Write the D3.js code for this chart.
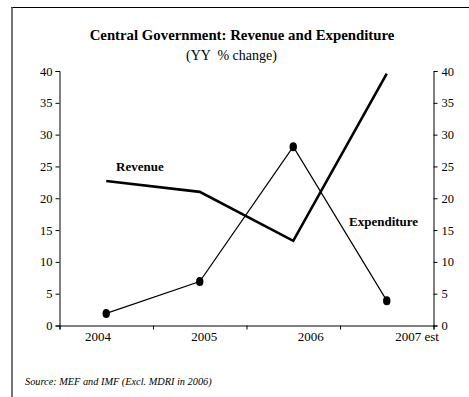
<!DOCTYPE html>
<html>
<head>
<meta charset="utf-8">
<script src="https://cdn.jsdelivr.net/npm/d3@7/dist/d3.min.js"></script>
<style>
  html, body { margin: 0; padding: 0; background: #fff; }
  svg { display: block; font-family: "Liberation Serif", "Times New Roman", serif; }
</style>
</head>
<body>
<svg id="chart" width="469" height="397"></svg>
<script>
// Year-on-year % change, central government
const categories = ["2004", "2005", "2006", "2007 est"];
const revenue = [22.7, 21.0, 13.3, 39.6];
const expenditure = [1.9, 6.9, 28.1, 3.9];
const yTicks = [0, 5, 10, 15, 20, 25, 30, 35, 40];

const svg = d3.select("#chart");

// frame around the figure (top and left edges)
svg.append("line").attr("x1", 11).attr("x2", 469).attr("y1", 7.5).attr("y2", 7.5)
  .attr("stroke", "#000").attr("stroke-width", 1);
svg.append("line").attr("x1", 12).attr("x2", 12).attr("y1", 7).attr("y2", 397)
  .attr("stroke", "#444").attr("stroke-width", 1.5);

const plot = { left: 59.5, right: 433.5, top: 71, bottom: 325.5 };

const x = d3.scaleBand().domain(categories).range([plot.left, plot.right]);
const y = d3.scaleLinear().domain([0, 40]).range([plot.bottom, plot.top]);
// year labels sit on their own slightly wider spacing
const xLabel = d3.scalePoint().domain(categories).range([98, 417]);

// titles
svg.append("text").attr("x", 242).attr("y", 40).attr("text-anchor", "middle")
  .attr("font-size", 14.8).attr("font-weight", "bold")
  .text("Central Government: Revenue and Expenditure");
svg.append("text").attr("x", 231.5).attr("y", 60).attr("text-anchor", "middle")
  .attr("font-size", 14).style("white-space", "pre")
  .text("(YY  % change)");

// left axis
const gl = svg.append("g").attr("transform", `translate(${plot.left},0)`)
  .call(d3.axisLeft(y).tickValues(yTicks).tickSize(4).tickPadding(3));
// right axis
const gr = svg.append("g").attr("transform", `translate(${plot.right},0)`)
  .call(d3.axisRight(y).tickValues(yTicks).tickSize(4).tickPadding(4));
[gl, gr].forEach(g => {
  g.select(".domain").attr("stroke", "#000");
  g.selectAll(".tick line").attr("stroke", "#000");
  g.selectAll(".tick text").attr("font-size", 12.5)
    .attr("font-family", "Liberation Serif, Times New Roman, serif").attr("fill", "#000");
});

// x axis: ticks on category boundaries
const boundaries = categories.map(c => x(c)).concat([x.range()[1]]);
const gx = svg.append("g").attr("transform", `translate(0,${plot.bottom})`)
  .call(d3.axisBottom(d3.scaleLinear().domain(x.range()).range(x.range()))
    .tickValues(boundaries).tickSize(4).tickFormat(""));
gx.select(".domain").attr("stroke", "#000");
gx.selectAll(".tick line").attr("stroke", "#000");

svg.append("g").selectAll("text").data(categories).join("text")
  .attr("x", d => xLabel(d)).attr("y", 341).attr("text-anchor", "middle")
  .attr("font-size", 13).text(d => d);

const cx = d => x(d) + x.bandwidth() / 2;
const line = d3.line().x((d, i) => cx(categories[i])).y(d => y(d));

// revenue: heavy line
svg.append("path").datum(revenue).attr("d", line)
  .attr("fill", "none").attr("stroke", "#000").attr("stroke-width", 2.6)
  .attr("stroke-linejoin", "miter");

// expenditure: thin line with markers
svg.append("path").datum(expenditure).attr("d", line)
  .attr("fill", "none").attr("stroke", "#000").attr("stroke-width", 1.2);
svg.append("g").selectAll("ellipse").data(expenditure).join("ellipse")
  .attr("cx", (d, i) => cx(categories[i])).attr("cy", d => y(d))
  .attr("rx", 3.7).attr("ry", 4.5).attr("fill", "#000");

// series labels
svg.append("text").attr("x", 116).attr("y", 171).attr("font-size", 13)
  .attr("font-weight", "bold").text("Revenue");
svg.append("text").attr("x", 349).attr("y", 226).attr("font-size", 13)
  .attr("font-weight", "bold").text("Expenditure");

// source note
svg.append("text").attr("x", 25).attr("y", 385).attr("font-size", 10.3)
  .attr("font-style", "italic").text("Source: MEF and IMF (Excl. MDRI in 2006)");
</script>
</body>
</html>
